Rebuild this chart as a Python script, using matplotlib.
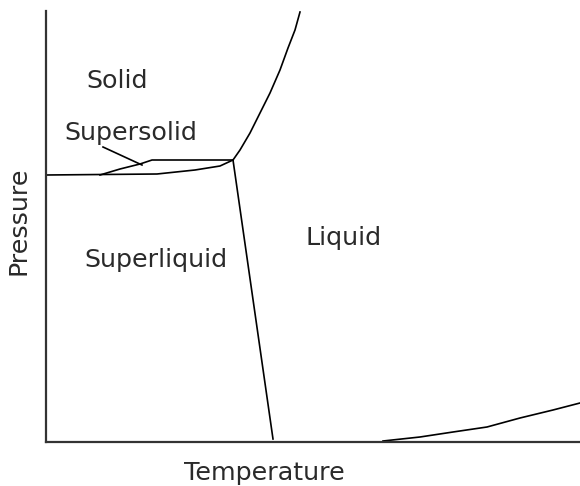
import matplotlib
matplotlib.use("Agg")
import matplotlib.pyplot as plt

# phase boundaries (arbitrary units, origin at the axes corner)
melt_t = [187, 194, 204, 214, 224, 234, 242, 249, 254]
melt_p = [282, 292, 309, 329, 349, 372, 394, 412, 430]

lower_t = [0, 111, 149, 174, 187]
lower_p = [267, 268, 272, 276, 282]

upper_t = [54, 74, 94, 106, 187]
upper_p = [267, 273, 278, 282, 282]

super_t = [187, 227]
super_p = [282, 3]

vapour_t = [337, 374, 407, 441, 474, 507, 534]
vapour_p = [1, 5, 10, 15, 24, 32, 39]

pointer_t = [57, 96]
pointer_p = [295, 277]

labels = ["Solid", "Supersolid", "Superliquid", "Liquid"]
label_t = [71, 85, 110, 298]
label_p = [354, 302, 175, 197]

fig = plt.figure(figsize=(5.8, 4.86), dpi=100)
ax = fig.add_axes([46 / 580, 44 / 486, 534 / 580, 431 / 486])

for t, p in [(melt_t, melt_p), (lower_t, lower_p), (upper_t, upper_p),
             (super_t, super_p), (vapour_t, vapour_p), (pointer_t, pointer_p)]:
    ax.plot(t, p, color="black", lw=1.2)

for name, t, p in zip(labels, label_t, label_p):
    ax.text(t, p, name, fontsize=18.3, ha="center", va="baseline", color="#2a2a2a")

ax.set_xlim(0, 534)
ax.set_ylim(0, 431)
ax.spines["top"].set_visible(False)
ax.spines["right"].set_visible(False)
for s in ["left", "bottom"]:
    ax.spines[s].set_linewidth(1.6)
    ax.spines[s].set_color("#333333")
ax.set_xticks([])
ax.set_yticks([])

fig.text(264 / 580, 6 / 486, "Temperature", fontsize=18.3, ha="center",
         va="baseline", color="#2a2a2a")
fig.text(19 / 580, 1 - 221 / 486, "Pressure", fontsize=18.3, rotation=90,
         ha="center", va="center", color="#2a2a2a")

fig.savefig("out.png", dpi=100)
